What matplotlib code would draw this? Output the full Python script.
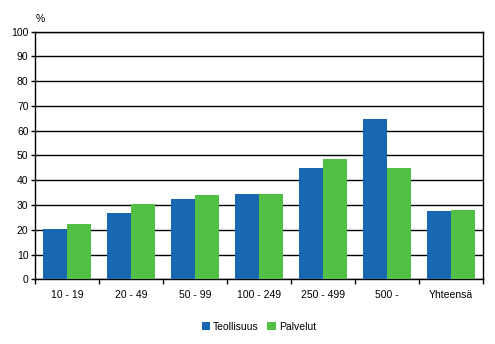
import matplotlib.pyplot as plt
import numpy as np

plt.rcParams['font.family'] = ['Liberation Sans', 'DejaVu Sans']
plt.rcParams['font.size'] = 7.5

categories = ['10 - 19', '20 - 49', '50 - 99', '100 - 249', '250 - 499', '500 -', 'Yhteensä']
teollisuus = [20.3, 26.9, 32.4, 34.4, 44.9, 64.7, 27.6]
palvelut = [22.3, 30.4, 34.0, 34.4, 48.6, 44.9, 28.0]

blue = '#1a67b1'
green = '#52bf45'

fig = plt.figure(figsize=(4.95, 3.44), dpi=100)
ax = fig.add_axes([0.0717, 0.188, 0.9043, 0.72])

x = np.arange(len(categories))
w = 0.375
ax.bar(x - w / 2, teollisuus, w, color=blue, label='Teollisuus', zorder=3)
ax.bar(x + w / 2, palvelut, w, color=green, label='Palvelut', zorder=3)

ax.set_xlim(-0.5, len(categories) - 0.5)
ax.set_ylim(0, 100)
ax.set_yticks(range(0, 101, 10))
ax.yaxis.grid(True, color='black', linewidth=1.0, zorder=1)

# category labels centred, ticks on the boundaries
ax.set_xticks(x)
ax.set_xticklabels(categories)
ax.tick_params(axis='x', length=0, pad=8)
ax.set_xticks(np.arange(-0.5, len(categories)), minor=True)
ax.tick_params(axis='x', which='minor', length=3.5, width=1, direction='out')
ax.tick_params(axis='y', length=3, width=1, direction='out', pad=2)

for s in ax.spines.values():
    s.set_color('black')
    s.set_linewidth(1)

ax.text(0.0, 1.03, '%', transform=ax.transAxes, ha='left', va='bottom')

fig.legend(loc='center', bbox_to_anchor=(0.523, 0.05), ncol=2, frameon=False,
           handlelength=0.8, handleheight=0.8, handletextpad=0.3, columnspacing=0.8)

fig.savefig('out.png', dpi=100)
